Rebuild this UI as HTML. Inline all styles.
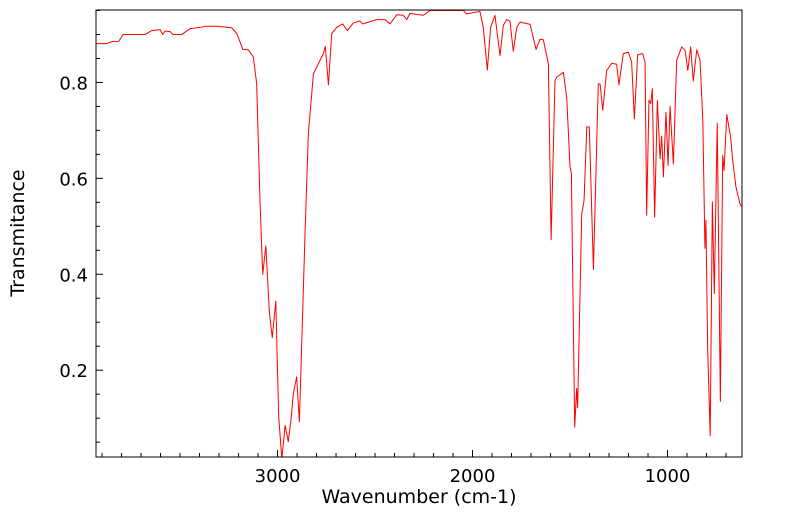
<!DOCTYPE html>
<html><head><meta charset="utf-8"><style>
body{margin:0;background:#fff;}
svg{display:block;font-family:"DejaVu Sans","Liberation Sans",sans-serif;}
</style></head><body>
<svg id="chart" width="799" height="516" xmlns="http://www.w3.org/2000/svg">
<rect x="0" y="0" width="799" height="516" fill="#fff"/>
<g id="ticks"></g>
<path id="line" fill="none" stroke="#ff0000" stroke-width="1" stroke-linejoin="round" clip-path="url(#clip)"/>
<defs><clipPath id="clip"><rect x="96" y="10" width="646" height="447"/></clipPath></defs>
<rect x="96" y="10" width="646" height="447" fill="none" stroke="#000" stroke-width="1"/>
<text x="419" y="503" text-anchor="middle" font-size="19">Wavenumber (cm-1)</text>
<text x="0" y="0" transform="translate(24,233) rotate(-90)" text-anchor="middle" font-size="19">Transmitance</text>
</svg>
<script>
const wavenumbers=[3936,3876,3850,3816,3791,3679,3645,3602,3589,3577,3551,3537,3491,3449,3363,3312,3235,3209,3178,3150,3124,3107,3090,3076,3060,3042,3027,3009,2994,2978,2961,2945,2931,2919,2902,2888,2859,2842,2816,2765,2755,2739,2722,2696,2666,2642,2611,2577,2563,2491,2449,2423,2389,2355,2337,2321,2252,2218,2167,2047,2030,1962,1945,1924,1907,1885,1859,1842,1825,1808,1791,1773,1756,1705,1674,1654,1637,1611,1597,1577,1568,1534,1517,1500,1493,1476,1466,1461,1440,1428,1414,1401,1380,1355,1346,1332,1312,1286,1261,1249,1227,1201,1184,1170,1153,1127,1115,1107,1095,1086,1078,1066,1052,1038,1030,1021,1008,997,987,970,953,927,910,896,881,868,850,833,819,808,803,794,781,770,760,745,729,717,710,696,676,666,649,628,615];
const transmittance=[0.881,0.881,0.885,0.885,0.900,0.900,0.908,0.910,0.900,0.907,0.906,0.900,0.900,0.912,0.917,0.917,0.914,0.902,0.869,0.868,0.853,0.797,0.554,0.400,0.459,0.321,0.268,0.344,0.103,0.015,0.085,0.051,0.096,0.151,0.186,0.092,0.485,0.693,0.818,0.860,0.875,0.795,0.902,0.915,0.922,0.908,0.924,0.928,0.922,0.931,0.931,0.922,0.941,0.940,0.931,0.944,0.940,0.950,0.950,0.950,0.943,0.948,0.915,0.826,0.915,0.940,0.856,0.919,0.931,0.928,0.865,0.915,0.926,0.921,0.869,0.890,0.889,0.839,0.472,0.804,0.811,0.821,0.769,0.624,0.610,0.081,0.162,0.122,0.526,0.554,0.707,0.707,0.410,0.797,0.797,0.742,0.825,0.840,0.838,0.795,0.860,0.863,0.842,0.724,0.858,0.860,0.842,0.523,0.763,0.756,0.787,0.519,0.762,0.641,0.688,0.603,0.738,0.627,0.750,0.630,0.846,0.874,0.867,0.825,0.874,0.803,0.868,0.846,0.721,0.454,0.513,0.242,0.063,0.551,0.360,0.715,0.135,0.648,0.617,0.733,0.685,0.638,0.582,0.546,0.539];
const xTickLabels=[3000,2000,1000];
const yTickLabels=[0.2,0.4,0.6,0.8];
const X0=96,X1=742,Y0=10,Y1=457;
const xMax=3931,xMin=618,yMax=0.951,yMin=0.019;
function sx(v){return X0+(xMax-v)/(xMax-xMin)*(X1-X0);}
function sy(v){return Y1-(v-yMin)/(yMax-yMin)*(Y1-Y0);}
const NS="http://www.w3.org/2000/svg";
const svg=document.getElementById('chart');
const tg=document.getElementById('ticks');
let d='';
for(let i=0;i<wavenumbers.length;i++){d+=(i?'L':'M')+sx(wavenumbers[i]).toFixed(2)+' '+sy(transmittance[i]).toFixed(2);}
document.getElementById('line').setAttribute('d',d);
function ln(x1,y1,x2,y2){const l=document.createElementNS(NS,'line');l.setAttribute('x1',x1);l.setAttribute('y1',y1);l.setAttribute('x2',x2);l.setAttribute('y2',y2);l.setAttribute('stroke','#000');l.setAttribute('stroke-width','1');tg.appendChild(l);return l;}
for(let w=700;w<=3900;w+=100){
  const x=sx(w),maj=(w%1000===0);
  const t=ln(x,Y1,x,Y1-(maj?7:4));
  
  
}
for(let k=1;k<=19;k++){
  const v=k*0.05; if(v<yMin||v>yMax) continue;
  const y=sy(v),maj=(k%4===0);
  const t=ln(X0,y,X0+(maj?7:4),y);
  
  
}
xTickLabels.forEach(v=>{
  const t=document.createElementNS(NS,'text');
  t.setAttribute('x',sx(v));t.setAttribute('y',482);t.setAttribute('text-anchor','middle');t.setAttribute('font-size','18');
  t.textContent=v;
  
  
  svg.appendChild(t);
});
yTickLabels.forEach(v=>{
  const t=document.createElementNS(NS,'text');
  t.setAttribute('x',88);t.setAttribute('y',sy(v)+7);t.setAttribute('text-anchor','end');t.setAttribute('font-size','18');
  t.textContent=v.toFixed(1);
  
  
  svg.appendChild(t);
});
</script>
</body></html>
